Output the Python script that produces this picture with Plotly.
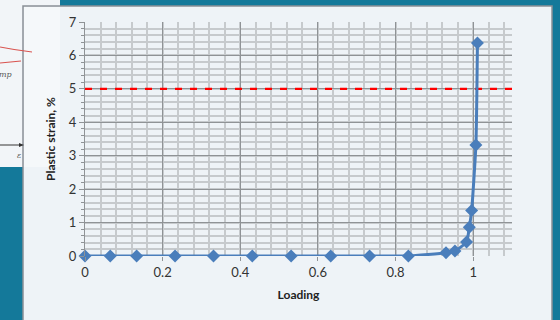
import plotly.graph_objects as go

# ---- data ----
loading = [0, 0.065, 0.133, 0.232, 0.331, 0.431, 0.531, 0.633, 0.733, 0.833,
           0.93, 0.953, 0.983, 0.99, 0.996, 1.007, 1.011]
plastic_strain = [0, 0, 0, 0, 0, 0, 0, 0, 0, 0,
                  0.1, 0.15, 0.42, 0.86, 1.36, 3.32, 6.37]
limit_x = [0, 1.1]
limit_y = [5, 5]
x_ticks = [0, 0.2, 0.4, 0.6, 0.8, 1]
x_tick_labels = ["0", "0.2", "0.4", "0.6", "0.8", "1"]
y_ticks = [0, 1, 2, 3, 4, 5, 6, 7]

W, H = 560, 320
L, R, T, B = 85, 48, 22, 64
PW, PH = W - L - R, H - T - B


def px(x):
    return (x - L) / PW


def py(y):
    return (H - B - y) / PH


TEAL = "#14799a"
PANEL = "#eef3f7"
BLUE = "#4a7ebb"

fig = go.Figure()
fig.add_trace(go.Scatter(
    x=limit_x, y=limit_y, mode="lines",
    line=dict(color="#ff0000", width=2.2, dash="7px,8px"),
    hoverinfo="skip", showlegend=False))
fig.add_trace(go.Scatter(
    x=loading, y=plastic_strain, mode="lines+markers",
    line=dict(color=BLUE, width=3, shape="spline", smoothing=0.5),
    marker=dict(symbol="diamond", size=10, color=BLUE),
    cliponaxis=False, showlegend=False))

shapes = [
    # inset picture fragment
    dict(type="rect", xref="paper", yref="paper", x0=px(0), x1=px(60), y0=py(167), y1=py(0),
         fillcolor="#f2f5f8", line=dict(width=0), layer="below"),
    # panel
    dict(type="rect", xref="paper", yref="paper", x0=px(23), x1=px(552), y0=py(321), y1=py(6),
         fillcolor=PANEL, line=dict(color="#8a9096", width=1.5), layer="below"),
    dict(type="rect", xref="paper", yref="paper", x0=px(24), x1=px(60), y0=py(167), y1=py(7),
         fillcolor="#f5f8fa", line=dict(width=0), layer="below"),
    # inset red curves
    dict(type="path", xref="paper", yref="paper",
         path=f"M {px(0)},{py(47)} Q {px(15)},{py(50)} {px(32)},{py(52)}",
         line=dict(color="#d9534f", width=1.2), layer="below"),
    dict(type="line", xref="paper", yref="paper", x0=px(0), y0=py(63), x1=px(21), y1=py(61),
         line=dict(color="#d9534f", width=1.2), layer="below"),
    # inset arrow axis
    dict(type="line", xref="paper", yref="paper", x0=px(0), y0=py(145), x1=px(20), y1=py(145),
         line=dict(color="#555555", width=1.2), layer="below"),
    dict(type="path", xref="paper", yref="paper",
         path=f"M {px(19)},{py(143)} L {px(24)},{py(145)} L {px(19)},{py(147)} Z",
         fillcolor="#333333", line=dict(width=0), layer="below"),
]

annotations = [
    dict(text="<i>mp</i>", xref="paper", yref="paper", x=px(5), y=py(74), showarrow=False,
         font=dict(family="DejaVu Serif", size=8, color="#555555"), xanchor="center", yanchor="middle"),
    dict(text="<i>ε</i>", xref="paper", yref="paper", x=px(19), y=py(155), showarrow=False,
         font=dict(family="DejaVu Serif", size=8, color="#555555"), xanchor="center", yanchor="middle"),
]

fig.update_layout(
    width=W, height=H,
    margin=dict(l=L, r=R, t=T, b=B, pad=0),
    paper_bgcolor=TEAL, plot_bgcolor=PANEL,
    shapes=shapes, annotations=annotations,
    font=dict(family="Lato", size=13, color="#333333"),
    xaxis=dict(
        range=[0, 1.1], tickvals=x_ticks, ticktext=x_tick_labels,
        showgrid=True, gridcolor="#8f9396", gridwidth=1.2,
        minor=dict(dtick=0.04, tick0=0, showgrid=True, gridcolor="#c6cacd", gridwidth=1.6),
        ticks="outside", ticklen=4, tickcolor="#8f9396",
        showline=False, zeroline=False,
        title=dict(text="<b>Loading</b>", font=dict(size=12, color="#222222"), standoff=12),
    ),
    yaxis=dict(
        range=[0, 7], tickvals=y_ticks,
        showgrid=True, gridcolor="#8f9396", gridwidth=1.2,
        minor=dict(dtick=0.2, tick0=0, showgrid=True, gridcolor="#c6cacd", gridwidth=1.6,
                   ticks="outside", ticklen=3, tickcolor="#8f9396"),
        ticks="outside", ticklen=5, tickcolor="#8f9396",
        showline=True, linecolor="#8f9396", linewidth=1.2, zeroline=False,
        title=dict(text="<b>Plastic strain, %</b>", font=dict(size=12, color="#222222"), standoff=10),
    ),
)

fig.write_html("out.html", config={"displayModeBar": False},
               post_script="document.body.style.margin='0';document.body.style.overflow='hidden';")
